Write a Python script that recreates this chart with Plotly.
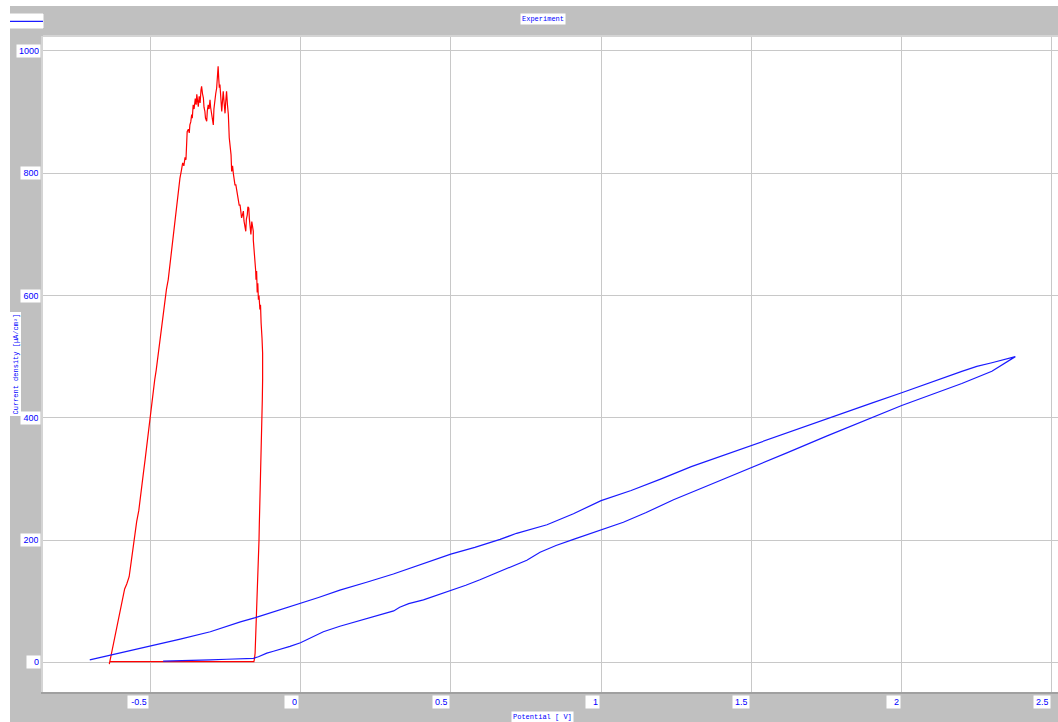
import plotly.graph_objects as go

# ---- data -------------------------------------------------------------
# first (red) sweep: rise to the anodic peak, fall back, return along 0
red_potential = [
    -0.636, -0.630, -0.622, -0.612, -0.603, -0.598, -0.592, -0.585, -0.578, -0.570,
    -0.563, -0.556, -0.551, -0.545, -0.538, -0.534, -0.528, -0.522, -0.517, -0.510,
    -0.505, -0.500, -0.495, -0.490, -0.485, -0.480, -0.476, -0.473, -0.468, -0.462,
    -0.456, -0.451, -0.446, -0.440, -0.435, -0.429, -0.424, -0.418, -0.414, -0.410,
    -0.405, -0.401, -0.396, -0.392, -0.388, -0.384, -0.381, -0.378, -0.377, -0.373,
    -0.370, -0.368, -0.365, -0.362, -0.360, -0.357, -0.354, -0.350, -0.347, -0.345,
    -0.342, -0.340, -0.337, -0.334, -0.331, -0.329, -0.326, -0.323, -0.321, -0.318,
    -0.316, -0.312, -0.310, -0.307, -0.304, -0.301, -0.299, -0.296, -0.293, -0.290,
    -0.288, -0.285, -0.282, -0.279, -0.277, -0.274, -0.272, -0.270, -0.268, -0.265,
    -0.262, -0.260, -0.257, -0.254, -0.251, -0.249, -0.246, -0.243, -0.240, -0.237,
    -0.234, -0.231, -0.229, -0.226, -0.223, -0.220, -0.218, -0.215, -0.212, -0.209,
    -0.206, -0.204, -0.201, -0.198, -0.196, -0.193, -0.190, -0.188, -0.185, -0.182,
    -0.180, -0.177, -0.175, -0.172, -0.170, -0.168, -0.165, -0.162, -0.160, -0.157,
    -0.157, -0.155, -0.153, -0.151, -0.149, -0.148, -0.146, -0.144, -0.142, -0.140,
    -0.138, -0.135, -0.133, -0.131, -0.129, -0.128, -0.126, -0.125, -0.126, -0.127,
    -0.129, -0.130, -0.131, -0.133, -0.135, -0.137, -0.138, -0.140, -0.141, -0.144,
    -0.146, -0.147, -0.148, -0.150, -0.151, -0.153, -0.155, -0.634,
]
red_current = [
    -3, 12, 30, 52, 78, 92, 108, 120, 128, 140,
    165, 190, 211, 230, 248, 262, 290, 312, 331, 362,
    380, 396, 420, 440, 462, 478, 494, 506, 530, 549,
    572, 598, 610, 626, 648, 675, 700, 724, 735, 754,
    775, 792, 805, 817, 812, 826, 822, 845, 868, 872,
    866, 879, 884, 896, 890, 912, 905, 922, 912, 929,
    918, 909, 926, 915, 936, 942, 930, 923, 908, 901,
    890, 885, 902, 912, 905, 920, 908, 896, 888, 879,
    905, 923, 930, 939, 952, 975, 955, 940, 945, 920,
    901, 915, 934, 915, 898, 915, 934, 912, 896, 858,
    845, 830, 803, 812, 798, 790, 781, 781, 770, 765,
    755, 748, 748, 735, 727, 732, 738, 722, 716, 705,
    725, 732, 745, 743, 725, 710, 700, 721, 712, 705,
    691, 680, 670, 658, 640, 626, 640, 605, 620, 593,
    600, 577, 585, 555, 544, 530, 506, 485, 462, 430,
    397, 370, 342, 300, 260, 225, 200, 170, 146, 120,
    97, 70, 42, 25, 15, 6, 1, 1,
]

# second (blue) sweep: forward branch up to the vertex, then the return branch
blue_potential = [
    -0.457, -0.400, -0.323, -0.300, -0.245, -0.200, -0.157, -0.140, -0.112, -0.090,
    -0.060, -0.035, 0.000, 0.040, 0.076, 0.131, 0.190, 0.242, 0.287, 0.310,
    0.330, 0.360, 0.409, 0.450, 0.500, 0.550, 0.597, 0.640, 0.686, 0.753,
    0.797, 0.850, 0.908, 1.000, 1.074, 1.150, 1.241, 1.350, 1.500, 1.620,
    1.750, 1.880, 2.000, 2.100, 2.200, 2.300, 2.378,
    2.300, 2.250, 2.200, 2.100, 2.000, 1.900, 1.750, 1.620, 1.500, 1.400,
    1.300, 1.200, 1.100, 1.000, 0.908, 0.820, 0.719, 0.664, 0.580, 0.500,
    0.400, 0.309, 0.220, 0.131, 0.060, 0.000, -0.050, -0.101, -0.150, -0.200,
    -0.300, -0.400, -0.500, -0.600, -0.667, -0.701,
]
blue_current = [
    2, 2.5, 3, 4, 5, 6, 6.5, 9, 15, 18,
    22, 26, 32, 41, 50, 59, 67, 75, 80, 84,
    90, 96, 102, 109, 117, 126, 135, 144, 154, 167,
    180, 191, 201, 216, 229, 245, 266, 288, 318, 343,
    370, 396, 420, 438, 456, 476, 500,
    490, 484, 476, 458, 441, 424, 398, 376, 355, 338,
    320, 300, 281, 264.5, 243, 225, 211, 201, 188, 177,
    160, 144.5, 131, 118, 106, 96.5, 88, 81, 73, 66,
    50, 38, 27, 16, 8, 4,
]

x_ticks = [-0.5, 0, 0.5, 1, 1.5, 2, 2.5]
x_tick_text = ["-0.5", "0", "0.5", "1", "1.5", "2", "2.5"]
y_ticks = [0, 200, 400, 600, 800, 1000]
y_tick_text = ["0", "200", "400", "600", "800", "1000"]

title_text = "Experiment"
x_title = "Potential [ V]"
y_title = "Current density [µA/cm²]"

# ---- styling ----------------------------------------------------------
W, H = 1058, 722
M_L, M_R, M_T, M_B = 43, 0, 36, 30
PW, PH = W - M_L - M_R, H - M_T - M_B
X_RANGE = [-0.8566, 2.520]
Y_RANGE = [-48.6, 1024.5]

FRAME_GRAY = "#C0C0C0"
GRID = "#C8C8C8"
BLUE_TXT = "#0000FF"
TICK_FONT = dict(family="Liberation Sans, Arial", size=9, color=BLUE_TXT)
MONO_FONT = dict(family="Liberation Mono, DejaVu Sans Mono, monospace", size=7, color=BLUE_TXT)


def px_x(p):
    """page pixel column -> paper x"""
    return (p - M_L) / PW


def px_y(p):
    """page pixel row -> paper y"""
    return (H - M_B - p) / PH


fig = go.Figure()

fig.add_trace(go.Scatter(
    x=red_potential, y=red_current, mode="lines",
    line=dict(color="#FF0000", width=1.2), hoverinfo="skip", showlegend=False,
))
fig.add_trace(go.Scatter(
    x=blue_potential, y=blue_current, mode="lines",
    line=dict(color="#1A1AFF", width=1.2), hoverinfo="skip", showlegend=False,
))

annotations = []
# x tick labels: white boxes ending at the gridline
for v, t in zip(x_ticks, x_tick_text):
    annotations.append(dict(
        x=v, xref="x", y=px_y(702), yref="paper", text=t, showarrow=False,
        xanchor="right", yanchor="middle", xshift=-1, align="right",
        width=max(11, 4.2 * len(t) + 1), bgcolor="white", borderpad=1, font=TICK_FONT,
    ))
# y tick labels: white boxes left of the frame
for v, t in zip(y_ticks, y_tick_text):
    annotations.append(dict(
        x=px_x(41), xref="paper", y=v, yref="y", text=t, showarrow=False,
        xanchor="right", yanchor="middle", align="right",
        width=max(11, 4.5 * len(t) + 3), bgcolor="white", borderpad=1, font=TICK_FONT,
    ))
# title and axis titles
annotations.append(dict(
    x=px_x(543), y=px_y(18.5), xref="paper", yref="paper", text=title_text,
    showarrow=False, xanchor="center", yanchor="middle", bgcolor="white",
    borderpad=1, font=MONO_FONT,
))
annotations.append(dict(
    x=px_x(542.5), y=px_y(717), xref="paper", yref="paper", text=x_title,
    showarrow=False, xanchor="center", yanchor="middle", bgcolor="white",
    borderpad=1, font=MONO_FONT,
))
annotations.append(dict(
    x=px_x(15), y=px_y(364.5), xref="paper", yref="paper", text=y_title,
    showarrow=False, xanchor="center", yanchor="middle", textangle=-90,
    bgcolor="white", borderpad=1, font=MONO_FONT,
))

shapes = [
    # white strips along the top and left edge of the window
    dict(type="rect", xref="paper", yref="paper", x0=px_x(0), x1=px_x(W),
         y0=px_y(6), y1=px_y(-2), fillcolor="white", line=dict(width=0), layer="below"),
    dict(type="rect", xref="paper", yref="paper", x0=px_x(-2), x1=px_x(10),
         y0=px_y(H + 2), y1=px_y(0), fillcolor="white", line=dict(width=0), layer="below"),
    # top edge of the plotting frame
    dict(type="line", xref="paper", yref="paper", x0=0, x1=1, y0=1, y1=1,
         line=dict(color="#D4D4D4", width=2)),
    # small legend box with the series line
    dict(type="rect", xref="paper", yref="paper", x0=px_x(10), x1=px_x(43),
         y0=px_y(28), y1=px_y(14), fillcolor="white", opacity=1,
         line=dict(color="white", width=1), layer="above"),
    dict(type="line", xref="paper", yref="paper", x0=px_x(10), x1=px_x(43),
         y0=px_y(21.3), y1=px_y(21.3), line=dict(color="#1A1AFF", width=1.2),
         layer="above"),
]

fig.update_layout(
    width=W, height=H,
    margin=dict(l=M_L, r=M_R, t=M_T, b=M_B, pad=0, autoexpand=False),
    paper_bgcolor=FRAME_GRAY, plot_bgcolor="white",
    showlegend=False,
    annotations=annotations, shapes=shapes,
    xaxis=dict(
        range=X_RANGE, tickvals=x_ticks, showticklabels=False, ticks="",
        showgrid=True, gridcolor=GRID, gridwidth=1, zeroline=False,
        showline=True, linecolor="#A0A0A0", linewidth=2, fixedrange=True,
    ),
    yaxis=dict(
        range=Y_RANGE, tickvals=y_ticks, showticklabels=False, ticks="",
        showgrid=True, gridcolor=GRID, gridwidth=1, zeroline=False,
        showline=True, linecolor="#D4D4D4", linewidth=2, fixedrange=True,
    ),
)

fig.write_html("out.html")
